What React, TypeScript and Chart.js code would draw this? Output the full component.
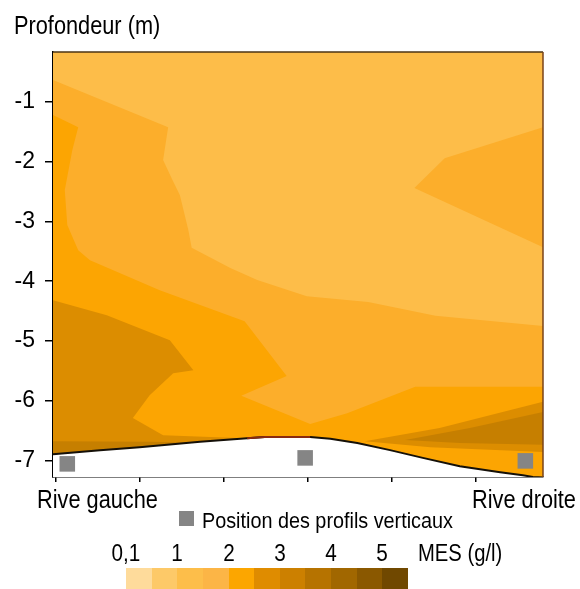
import React, { useEffect, useRef } from "react";
import { Chart, registerables } from "chart.js";

Chart.register(...registerables);

type P = [number, number];

// ---------- data (x: position across the section, y: depth in m) ----------
const depthTicks = [-1, -2, -3, -4, -5, -6, -7];
const crossTicks = [0, 1, 2, 3, 4, 5];
const xRange: P = [-0.03, 5.8];
const depthRange: P = [-7.28, -0.16];

// MES contour zones (polygons)
const zoneLevel1: P[] = [[-0.03, -0.16], [5.8, -0.16], [5.8, -7.4], [-0.03, -7.4]];
const zoneLevel2Main: P[] = [
  [-0.03, -0.63], [1.34, -1.42], [1.28, -1.97], [1.39, -2.3], [1.48, -2.56], [1.58, -3.14],
  [1.62, -3.44], [2.08, -3.78], [2.4, -3.98], [2.99, -4.25], [3.72, -4.35], [4.52, -4.58],
  [5.8, -4.75], [5.8, -7.4], [-0.03, -7.4],
];
const zoneLevel2Right: P[] = [[5.8, -1.42], [4.63, -1.94], [4.27, -2.44], [5.8, -3.43]];
const zoneLevel3: P[] = [
  [-0.03, -1.215], [0.27, -1.42], [0.2, -1.8], [0.11, -2.47], [0.14, -3.06], [0.27, -3.48],
  [0.41, -3.65], [1.24, -4.15], [2.25, -4.67], [2.75, -5.59], [2.21, -5.92], [3.03, -6.39],
  [3.47, -6.21], [4.28, -5.77], [5.8, -5.77], [5.8, -7.4], [-0.03, -7.4],
];
const zoneLevel4Left: P[] = [
  [-0.03, -4.32], [0.61, -4.57], [1.36, -4.99], [1.64, -5.49], [1.4, -5.54], [1.12, -5.91],
  [0.92, -6.29], [1.28, -6.58], [2.25, -6.63], [2.25, -7.4], [-0.03, -7.4],
];
const zoneLevel4Right: P[] = [[3.68, -6.68], [4.57, -6.46], [5.8, -6.02], [5.8, -6.86], [4.46, -6.78]];
const zoneLevel5Left: P[] = [[-0.03, -6.68], [1.12, -6.69], [1.78, -6.71], [1.78, -7.4], [-0.03, -7.4]];
const zoneLevel5Right: P[] = [[4.16, -6.66], [4.93, -6.46], [5.8, -6.19], [5.8, -6.74], [4.81, -6.71]];

// river bed profile
const bedProfile: P[] = [
  [-0.03, -6.9], [0.53, -6.83], [1.0, -6.78], [1.72, -6.69], [2.28, -6.63], [2.49, -6.61],
  [3.03, -6.61], [3.27, -6.64], [3.59, -6.71], [3.98, -6.83], [4.37, -6.96], [4.81, -7.1],
  [5.29, -7.2], [5.56, -7.25], [5.68, -7.28], [5.8, -7.29],
];
const bedCrest: P[] = [[2.28, -6.63], [2.49, -6.61], [3.03, -6.61]];

// vertical profile positions
const profileX = [0.14, 2.97, 5.59];
const profileDepth = [-7.06, -6.96, -7.01];

// legend
const mesLabels = ["0,1", "1", "2", "3", "4", "5"];
const mesLabelCell = [0, 2, 4, 6, 8, 10];
const mesClassColors = [
  "#fedb9b", "#fdc968", "#fdbe4a", "#fcb546", "#fca600", "#df8c00",
  "#cc8000", "#b67300", "#a16700", "#8a5800", "#704800",
];

// ---------- styles ----------
const ZONE = {
  l1: "#fdbd49",
  l2: "#fcae2b",
  l3: "#fca502",
  l4: "#dc8d00",
  l5: "#c67f00",
};
const FONT = '"Liberation Sans", Arial, Helvetica, sans-serif';

const framePlugin = {
  id: "frame",
  afterDatasetsDraw(chart: any) {
    const { ctx, chartArea } = chart;
    const { left, top, right, bottom } = chartArea;
    ctx.save();
    ctx.lineWidth = 1.5;
    ctx.strokeStyle = "#4b3415";
    ctx.beginPath();
    ctx.moveTo(left, top);
    ctx.lineTo(right, top);
    ctx.stroke();
    ctx.strokeStyle = "#7a4318";
    ctx.beginPath();
    ctx.moveTo(right, top);
    ctx.lineTo(right, bottom);
    ctx.stroke();
    ctx.restore();
  },
};

function txt(left: number, top: number, size: number, sx: number, center = false): React.CSSProperties {
  return {
    position: "absolute",
    left,
    top,
    fontSize: size,
    lineHeight: `${size}px`,
    fontFamily: FONT,
    color: "#000",
    whiteSpace: "nowrap",
    transform: center ? `translateX(-50%) scaleX(${sx})` : `scaleX(${sx})`,
    transformOrigin: center ? "center top" : "left top",
  };
}

export default function App() {
  const ref = useRef<HTMLCanvasElement>(null);

  useEffect(() => {
    const canvas = ref.current;
    if (!canvas) return;
    const toXY = (pts: P[]) => pts.map(([x, y]) => ({ x, y }));
    const zones: { pts: P[]; color: string }[] = [
      { pts: zoneLevel1, color: ZONE.l1 },
      { pts: zoneLevel2Main, color: ZONE.l2 },
      { pts: zoneLevel2Right, color: ZONE.l2 },
      { pts: zoneLevel3, color: ZONE.l3 },
      { pts: zoneLevel4Left, color: ZONE.l4 },
      { pts: zoneLevel4Right, color: ZONE.l4 },
      { pts: zoneLevel5Left, color: ZONE.l5 },
      { pts: zoneLevel5Right, color: ZONE.l5 },
    ];
    const datasets: any[] = zones.map((z, i) => ({
      type: "line",
      data: toXY(z.pts),
      backgroundColor: z.color,
      borderColor: z.color,
      borderWidth: 0,
      pointRadius: 0,
      fill: "shape",
      tension: 0,
      order: 100 - i,
    }));
    datasets.push({
      type: "line",
      data: toXY([...bedProfile, [5.8, -7.4], [-0.03, -7.4]]),
      backgroundColor: "#ffffff",
      borderColor: "#ffffff",
      borderWidth: 0,
      pointRadius: 0,
      fill: "shape",
      order: 50,
    });
    datasets.push({
      type: "line",
      data: toXY(bedProfile),
      borderColor: "#151008",
      borderWidth: 2,
      pointRadius: 0,
      fill: false,
      order: 40,
    });
    datasets.push({
      type: "line",
      data: toXY(bedCrest),
      borderColor: "#8a2a10",
      borderWidth: 2,
      pointRadius: 0,
      fill: false,
      order: 39,
    });
    datasets.push({
      type: "scatter",
      data: profileX.map((x, i) => ({ x, y: profileDepth[i] })),
      pointStyle: "rect",
      pointRadius: 11,
      backgroundColor: "#858585",
      borderWidth: 0,
      order: 0,
    });

    const chart = new Chart(canvas, {
      type: "line",
      data: { datasets },
      options: {
        responsive: false,
        animation: false,
        devicePixelRatio: 1,
        layout: { padding: { top: 52, right: 37, left: 0, bottom: 0 } },
        plugins: {
          legend: { display: false },
          tooltip: { enabled: false },
        },
        scales: {
          x: {
            type: "linear",
            min: xRange[0],
            max: xRange[1],
            z: 1,
            afterBuildTicks: (s: any) => {
              s.ticks = crossTicks.map((v) => ({ value: v }));
            },
            afterFit: (s: any) => {
              s.height = 112;
            },
            ticks: { display: false },
            grid: { drawOnChartArea: false, drawTicks: true, tickLength: 5, color: "#000", tickColor: "#000", lineWidth: 1.5 },
            border: { color: "#000", width: 1.5 },
          },
          y: {
            type: "linear",
            min: depthRange[0],
            max: depthRange[1],
            z: 1,
            afterBuildTicks: (s: any) => {
              s.ticks = depthTicks.map((v) => ({ value: v }));
            },
            afterFit: (s: any) => {
              s.width = 53;
            },
            ticks: { color: "#000", padding: 10, font: { family: FONT, size: 23 } },
            grid: { drawOnChartArea: false, drawTicks: true, tickLength: 8, color: "#000", tickColor: "#000", lineWidth: 1.5 },
            border: { color: "#000", width: 1.5 },
          },
        },
      } as any,
      plugins: [framePlugin],
    });
    return () => chart.destroy();
  }, []);

  const cellW = (408 - 126) / mesClassColors.length;

  return (
    <div style={{ position: "absolute", left: 0, top: 0, width: 580, height: 589, overflow: "hidden", background: "#fff" }}>
      <canvas ref={ref} width={580} height={589} style={{ position: "absolute", left: 0, top: 0, width: 580, height: 589 }} />
      <div style={txt(14, 13, 25, 0.87)}>Profondeur (m)</div>
      <div style={txt(37, 487, 25, 0.87)}>Rive gauche</div>
      <div style={txt(472, 487, 25, 0.87)}>Rive droite</div>
      <div style={{ position: "absolute", left: 179, top: 511, width: 15, height: 15, background: "#858585" }} />
      <div style={txt(202, 510, 22, 0.9)}>Position des profils verticaux</div>
      {mesLabels.map((l, i) => (
        <div key={l} style={txt(126 + mesLabelCell[i] * cellW, 542, 23, 0.9, true)}>{l}</div>
      ))}
      <div style={txt(418, 542, 23, 0.88)}>MES (g/l)</div>
      {mesClassColors.map((c, i) => (
        <div
          key={c}
          style={{ position: "absolute", left: 126 + i * cellW, top: 568, width: cellW + 0.5, height: 21, background: c }}
        />
      ))}
    </div>
  );
}
